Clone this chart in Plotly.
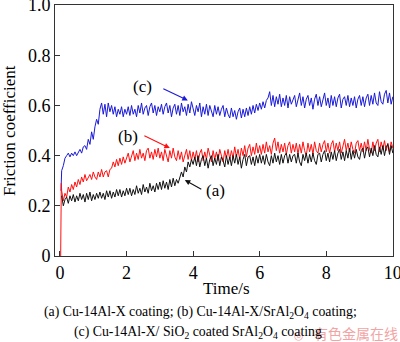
import plotly.graph_objects as go

t_common = [round(0.05 * i, 2) for i in range(1, 201)]

# (c) Cu-14Al-X/ SiO2 coated SrAl2O4 coating  (blue)
c_start_t = [0.03]
c_start_v = [0.26]
c_vals = [
    0.34, 0.36, 0.39, 0.40, 0.41, 0.395, 0.41, 0.40, 0.415, 0.40,
    0.41, 0.425, 0.41, 0.435, 0.44, 0.425, 0.465, 0.445, 0.495, 0.465,
    0.515, 0.545, 0.525, 0.585, 0.61, 0.565, 0.605, 0.555, 0.61, 0.575,
    0.60, 0.565, 0.595, 0.555, 0.585, 0.565, 0.595, 0.555, 0.585, 0.565,
    0.595, 0.56, 0.60, 0.565, 0.585, 0.555, 0.60, 0.57, 0.61, 0.565,
    0.59, 0.60, 0.56, 0.595, 0.61, 0.57, 0.60, 0.56, 0.595, 0.575,
    0.605, 0.565, 0.595, 0.61, 0.57, 0.60, 0.555, 0.59, 0.605, 0.565,
    0.60, 0.56, 0.61, 0.575, 0.595, 0.56, 0.605, 0.57, 0.615, 0.58,
    0.56, 0.60, 0.575, 0.61, 0.555, 0.595, 0.565, 0.605, 0.56, 0.60,
    0.575, 0.555, 0.60, 0.565, 0.595, 0.56, 0.585, 0.60, 0.555, 0.59,
    0.565, 0.55, 0.59, 0.555, 0.58, 0.545, 0.575, 0.59, 0.55, 0.585,
    0.555, 0.59, 0.56, 0.595, 0.565, 0.60, 0.57, 0.605, 0.58, 0.61,
    0.585, 0.615, 0.59, 0.62, 0.63, 0.655, 0.60, 0.64, 0.595, 0.635,
    0.605, 0.645, 0.595, 0.63, 0.60, 0.64, 0.59, 0.635, 0.605, 0.62,
    0.64, 0.595, 0.63, 0.65, 0.60, 0.635, 0.59, 0.625, 0.64, 0.60,
    0.63, 0.585, 0.625, 0.645, 0.60, 0.635, 0.595, 0.63, 0.65, 0.60,
    0.63, 0.59, 0.64, 0.60, 0.635, 0.595, 0.63, 0.645, 0.59, 0.625,
    0.635, 0.60, 0.64, 0.595, 0.63, 0.60, 0.635, 0.59, 0.625, 0.64,
    0.60, 0.635, 0.595, 0.63, 0.645, 0.60, 0.64, 0.605, 0.65, 0.61,
    0.60, 0.655, 0.615, 0.605, 0.645, 0.66, 0.61, 0.65, 0.605, 0.635,
]

# (b) Cu-14Al-X/SrAl2O4 coating  (red)
b_start_t = [0.02, 0.04]
b_start_v = [0.0, 0.29]
b_vals = [
    0.26, 0.22, 0.25, 0.235, 0.275, 0.255, 0.285, 0.265, 0.295, 0.275,
    0.305, 0.285, 0.315, 0.295, 0.325, 0.30, 0.31, 0.325, 0.305, 0.335,
    0.315, 0.305, 0.335, 0.315, 0.345, 0.315, 0.335, 0.34, 0.315, 0.345,
    0.35, 0.375, 0.355, 0.385, 0.36, 0.39, 0.365, 0.395, 0.37, 0.39,
    0.41, 0.375, 0.40, 0.42, 0.38, 0.41, 0.385, 0.425, 0.39, 0.41,
    0.38, 0.42, 0.43, 0.39, 0.415, 0.385, 0.425, 0.395, 0.43, 0.39,
    0.415, 0.38, 0.425, 0.395, 0.375, 0.42, 0.39, 0.43, 0.395, 0.38,
    0.42, 0.385, 0.415, 0.375, 0.405, 0.425, 0.385, 0.42, 0.38, 0.415,
    0.385, 0.42, 0.375, 0.41, 0.425, 0.38, 0.415, 0.385, 0.43, 0.395,
    0.375, 0.42, 0.385, 0.415, 0.38, 0.425, 0.395, 0.375, 0.42, 0.39,
    0.425, 0.385, 0.42, 0.39, 0.435, 0.395, 0.425, 0.385, 0.43, 0.40,
    0.44, 0.395, 0.43, 0.445, 0.40, 0.435, 0.405, 0.45, 0.41, 0.44,
    0.405, 0.445, 0.41, 0.455, 0.415, 0.44, 0.405, 0.45, 0.47, 0.42,
    0.455, 0.41, 0.445, 0.415, 0.45, 0.405, 0.44, 0.455, 0.41, 0.445,
    0.415, 0.45, 0.405, 0.445, 0.41, 0.455, 0.42, 0.40, 0.45, 0.415,
    0.445, 0.405, 0.455, 0.42, 0.41, 0.45, 0.415, 0.445, 0.46, 0.415,
    0.45, 0.41, 0.445, 0.46, 0.415, 0.45, 0.42, 0.455, 0.41, 0.445,
    0.465, 0.42, 0.45, 0.415, 0.455, 0.425, 0.41, 0.45, 0.46, 0.42,
    0.45, 0.415, 0.455, 0.42, 0.465, 0.425, 0.41, 0.455, 0.42, 0.45,
    0.465, 0.415, 0.455, 0.425, 0.46, 0.42, 0.45, 0.415, 0.455, 0.43,
]

# (a) Cu-14Al-X coating  (black)
a_vals = [
    0.24, 0.20, 0.225, 0.235, 0.21, 0.24, 0.22, 0.245, 0.215, 0.24,
    0.22, 0.25, 0.225, 0.245, 0.215, 0.25, 0.225, 0.255, 0.22, 0.245,
    0.225, 0.25, 0.23, 0.255, 0.23, 0.25, 0.225, 0.26, 0.235, 0.26,
    0.23, 0.255, 0.235, 0.265, 0.24, 0.265, 0.235, 0.26, 0.24, 0.27,
    0.245, 0.27, 0.24, 0.265, 0.245, 0.28, 0.25, 0.27, 0.245, 0.285,
    0.255, 0.275, 0.25, 0.29, 0.26, 0.28, 0.255, 0.29, 0.265, 0.295,
    0.265, 0.30, 0.27, 0.295, 0.265, 0.305, 0.275, 0.31, 0.28, 0.305,
    0.29, 0.315, 0.335, 0.315, 0.355, 0.335, 0.375, 0.355, 0.385, 0.365,
    0.395, 0.36, 0.40, 0.355, 0.385, 0.40, 0.36, 0.39, 0.35, 0.385,
    0.40, 0.36, 0.39, 0.365, 0.405, 0.36, 0.395, 0.38, 0.355, 0.40,
    0.365, 0.395, 0.36, 0.40, 0.37, 0.405, 0.365, 0.395, 0.35, 0.385,
    0.405, 0.36, 0.395, 0.40, 0.365, 0.395, 0.36, 0.40, 0.37, 0.405,
    0.37, 0.40, 0.365, 0.405, 0.375, 0.36, 0.40, 0.37, 0.41, 0.375,
    0.40, 0.365, 0.405, 0.37, 0.40, 0.41, 0.37, 0.405, 0.375, 0.40,
    0.405, 0.37, 0.41, 0.375, 0.36, 0.405, 0.38, 0.41, 0.37, 0.405,
    0.375, 0.41, 0.38, 0.365, 0.405, 0.41, 0.375, 0.405, 0.42, 0.38,
    0.41, 0.375, 0.415, 0.385, 0.42, 0.38, 0.41, 0.425, 0.385, 0.415,
    0.38, 0.42, 0.39, 0.43, 0.385, 0.42, 0.39, 0.425, 0.395, 0.385,
    0.42, 0.43, 0.39, 0.425, 0.435, 0.395, 0.43, 0.40, 0.44, 0.405,
    0.395, 0.435, 0.405, 0.44, 0.40, 0.435, 0.445, 0.405, 0.44, 0.41,
]

x_tick_vals = [0, 2, 4, 6, 8, 10]
y_tick_vals = [0, 0.2, 0.4, 0.6, 0.8, 1.0]
y_tick_text = ["0", "0.2", "0.4", "0.6", "0.8", "1.0"]

FONT = "Liberation Serif"
BLUE = "#1a1ad8"
RED = "#ff1010"
BLACK = "#111111"

fig = go.Figure()
fig.add_trace(go.Scatter(x=c_start_t + t_common, y=c_start_v + c_vals, mode="lines",
                         line=dict(color=BLUE, width=1), showlegend=False))
fig.add_trace(go.Scatter(x=b_start_t + t_common, y=b_start_v + b_vals, mode="lines",
                         line=dict(color=RED, width=1), showlegend=False))
fig.add_trace(go.Scatter(x=t_common, y=a_vals, mode="lines",
                         line=dict(color=BLACK, width=1), showlegend=False))

# arrows + labels
arrows = [
    dict(lbl="(c)", tx=2.49, ty=0.677, x=3.84, y=0.62, ax=3.06, ay=0.67, col=BLUE),
    dict(lbl="(b)", tx=2.04, ty=0.478, x=3.30, y=0.43, ax=2.49, ay=0.482, col=RED),
    dict(lbl="(a)", tx=4.68, ty=0.263, x=3.75, y=0.303, ax=4.29, ay=0.263, col=BLACK),
]
for a in arrows:
    fig.add_annotation(x=a["x"], y=a["y"], ax=a["ax"], ay=a["ay"], xref="x", yref="y",
                       axref="x", ayref="y", text="", showarrow=True, arrowhead=2,
                       arrowsize=1, arrowwidth=1.1, arrowcolor=a["col"])
    fig.add_annotation(x=a["tx"], y=a["ty"], xref="x", yref="y", text=a["lbl"],
                       xanchor="center", yanchor="middle",
                       showarrow=False, font=dict(family=FONT, size=17, color="black"))

def px_x(p):
    return (p - 55) / 338.0

def px_y(p):
    return (256 - p) / 251.0

def paper_text(x, y, text, size, color="black", family=FONT, angle=0):
    fig.add_annotation(x=px_x(x), y=px_y(y), xref="paper", yref="paper", text=text,
                       xanchor="center", yanchor="middle", textangle=angle,
                       showarrow=False, font=dict(family=family, size=size, color=color))

paper_text(9, 131, "Friction coefficient", 17, angle=-90)
paper_text(226, 288, "Time/s", 17)
paper_text(200, 312, "(a) Cu-14Al-X coating; (b) Cu-14Al-X/SrAl<sub>2</sub>O<sub>4</sub> coating;", 13.8)
paper_text(356, 333, "有色金属在线", 14, color="#f2a4a4", family="Noto Sans CJK SC")
paper_text(299, 335, "◎", 11, color="#f2a4a4", family="DejaVu Sans")
paper_text(198, 332, "(c) Cu-14Al-X/ SiO<sub>2</sub> coated SrAl<sub>2</sub>O<sub>4</sub> coating", 13.8)

axis_common = dict(showline=True, linecolor="#333333", linewidth=1, mirror=True,
                   ticks="inside", ticklen=5, tickcolor="#333333", showgrid=False,
                   zeroline=False, ticklabeloverflow="allow", automargin=False,
                   tickfont=dict(family=FONT, size=18, color="black"))
fig.update_xaxes(range=[-0.15, 10.005], tickvals=x_tick_vals, **axis_common)
fig.update_yaxes(range=[0, 1.0005], tickvals=y_tick_vals, ticktext=y_tick_text, **axis_common)

fig.update_layout(width=400, height=342, margin=dict(l=55, r=7, t=5, b=86, autoexpand=False),
                  paper_bgcolor="white", plot_bgcolor="white",
                  font=dict(family=FONT))
fig.write_html("out.html")
